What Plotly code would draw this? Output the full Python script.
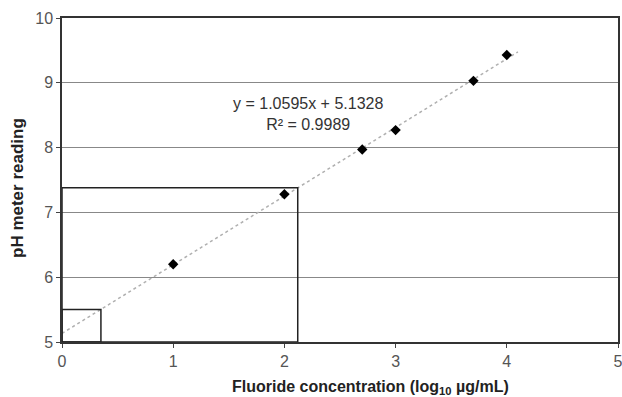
import plotly.graph_objects as go

# Data
conc_log = [1.0, 2.0, 2.7, 3.0, 3.7, 4.0]
ph_reading = [6.2, 7.28, 7.97, 8.27, 9.03, 9.43]

slope = 1.0595
intercept = 5.1328
r_squared = 0.9989
trend_x = [0.0, 4.1]

# reading guides (pH -> concentration)
guide_x = [2.12, 0.35]
guide_y = [7.38, 5.5]

x_ticks = [0, 1, 2, 3, 4, 5]
y_ticks = [5, 6, 7, 8, 9, 10]

x_title = "<b>Fluoride concentration (log<sub>10</sub> µg/mL)</b>"
y_title = "<b>pH meter reading</b>"

W, H = 622, 397
ML, MR, MT, MB = 62, 4, 18, 55

fig = go.Figure()

fig.add_trace(go.Scatter(
    x=trend_x, y=[slope * x + intercept for x in trend_x],
    mode="lines", line=dict(color="#b0b0b0", width=1.5, dash="dot"),
    hoverinfo="skip", showlegend=False))

fig.add_trace(go.Scatter(
    x=conc_log, y=ph_reading, mode="markers",
    marker=dict(symbol="diamond", size=8, color="black"),
    showlegend=False))

for gx, gy in zip(guide_x, guide_y):
    fig.add_shape(type="rect", xref="x", yref="y", x0=0, y0=5, x1=gx, y1=gy,
                  line=dict(color="#222222", width=1.5), fillcolor="rgba(0,0,0,0)")

fig.add_annotation(
    x=2.21, y=8.52, xref="x", yref="y", showarrow=False,
    text=f"y = {slope}x + {intercept}<br>R² = {r_squared}",
    font=dict(family="Arial, Liberation Sans", size=16, color="#333333"),
    align="center")

pw, ph_ = W - ML - MR, H - MT - MB


def px_to_paper(wx, wy):
    return (wx - ML) / pw, 1 - (wy - MT) / ph_


tx, ty = px_to_paper(370, 387)
fig.add_annotation(x=tx, y=ty, xref="paper", yref="paper", showarrow=False,
                   xanchor="center", yanchor="middle", text=x_title,
                   font=dict(family="Arial, Liberation Sans", size=16, color="#222222"))
tx, ty = px_to_paper(17, 188)
fig.add_annotation(x=tx, y=ty, xref="paper", yref="paper", showarrow=False,
                   xanchor="center", yanchor="middle", text=y_title, textangle=-90,
                   font=dict(family="Arial, Liberation Sans", size=17, color="#222222"))

axis_font = dict(family="Arial, Liberation Sans", size=16, color="#555555")

fig.update_xaxes(
    range=[0, 5], tickvals=x_ticks, ticks="outside", ticklen=4, tickcolor="#444444",
    showgrid=False, zeroline=False, showline=True, linecolor="#333333", linewidth=1.5,
    mirror=True, tickfont=axis_font, automargin=False, ticklabeloverflow="allow")

fig.update_yaxes(
    range=[5, 10], tickvals=y_ticks, ticks="outside", ticklen=4, tickcolor="#444444",
    showgrid=True, gridcolor="#888888", gridwidth=1, zeroline=False,
    showline=True, linecolor="#333333", linewidth=1.5, mirror=True, tickfont=axis_font,
    automargin=False)

fig.update_layout(
    width=W, height=H,
    margin=dict(l=ML, r=MR, t=MT, b=MB),
    plot_bgcolor="white", paper_bgcolor="white",
    showlegend=False)

fig.write_html(
    "out.html",
    config={"displayModeBar": False},
    post_script="document.body.style.margin='0';document.body.style.overflow='hidden';")
